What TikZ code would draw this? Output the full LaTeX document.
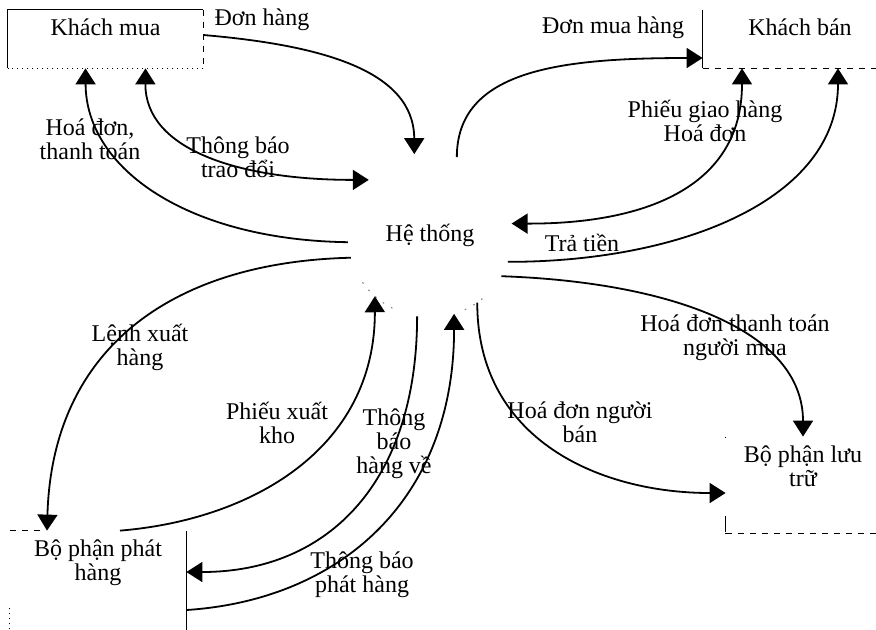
\documentclass[tikz,border=0pt]{standalone}
\usepackage{fontspec}
\setmainfont{Liberation Serif}
\usetikzlibrary{arrows.meta}

\begin{document}
\begin{tikzpicture}[x=0.5pt, y=-0.5pt,
    font=\fontsize{12}{12}\selectfont,
    flow/.style={line width=0.9pt, -{Triangle[width=10pt,length=8pt]}},
    both/.style={line width=0.9pt, {Triangle[width=10pt,length=8pt]}-{Triangle[width=10pt,length=8pt]}},
    entity/.style={rectangle, inner sep=0pt},
    side/.style={line width=0.5pt},
    txt/.style={anchor=center, align=center, yshift=-#1},
    lbl/.style={align=center}]
    \useasboundingbox (0,0) rectangle (876,629);

    % the process in the middle
    \node[circle, minimum size=82pt, inner sep=0pt] (he) at (430,235) {Hệ thống};
    \draw[side, black!50, dash pattern=on 0.8pt off 4pt]
        (he.215) arc[start angle=215, end angle=245, radius=41pt];
    \draw[side, black!50, dash pattern=on 0.8pt off 4pt]
        (he.295) arc[start angle=295, end angle=312, radius=41pt];

    % the four outside parties
    \node[entity, minimum width=97.5pt, minimum height=29pt,
        label={[txt=9pt]north:Khách mua}] (kmua) at (105.5,39) {};
    \node[entity, minimum width=87.5pt, minimum height=29pt,
        label={[txt=9pt, xshift=4.75pt]north:Khách bán}] (kban) at (790.5,39) {};
    \node[entity, minimum width=88pt, minimum height=54pt,
        label={[txt=16pt]north:{Bộ phận phát\\hàng}}] (bpph) at (98,585) {};
    \node[entity, minimum width=77pt, minimum height=48pt,
        label={[txt=15pt]north:{Bộ phận lưu\\trữ}}] (bplt) at (803,485) {};

    % box edges, half worn off
    \draw[side] (kmua.south west) -- (kmua.north west) -- (kmua.north east);
    \draw[side, dashed] (kmua.north east) -- (kmua.south east);
    \draw[side, dotted] (kmua.south east) -- (kmua.south west);
    \draw[side] (kban.north west) -- (kban.south west);
    \draw[side, dashed] (kban.south west) -- (kban.south east);
    \draw[side, dashed] (bpph.north west) -- ++(30,0);
    \draw[side] (bpph.north east) -- (bpph.south east);
    \draw[side, dotted] (bpph.south west) -- ++(0,-34);
    \draw[side, dash pattern=on 0.5pt off 39pt on 8pt] (bplt.north west) -- (bplt.south west);
    \draw[side, dashed] (bplt.south west) -- (bplt.south east);

    % flows
    \draw[flow] ([yshift=2pt]kmua.east) .. controls (320,45) and (414,70) .. (he.101);
    \draw[both] ([xshift=20pt]kmua.south) .. controls (145,150) and (240,180) .. (he.138);
    \draw[flow] (he.185) .. controls (190,240) and (86,170) .. ([xshift=-10pt]kmua.south);
    \draw[flow] (he.71) .. controls (457,70) and (560,58) .. ([yshift=-9.5pt]kban.west);
    \draw[both] ([xshift=-24.25pt]kban.south) .. controls (742,190) and (640,224) .. (he.8);
    \draw[flow] (he.341) .. controls (680,262) and (838,200) .. ([xshift=23.75pt]kban.south);
    \draw[flow] (he.330) .. controls (670,282) and (803,330) .. (bplt.north);
    \draw[flow] (he.305) .. controls (477,440) and (600,493) .. ([yshift=-4pt]bplt.west);
    \draw[flow] (he.196) .. controls (170,262) and (52,350) .. ([xshift=-25.5pt]bpph.north);
    \draw[flow] ([xshift=11pt]bpph.north) .. controls (250,520) and (375,450) .. (he.228);
    \draw[flow] (he.261) .. controls (417,480) and (330,572) .. ([yshift=6.5pt]bpph.east);
    \draw[flow] ([yshift=-12.5pt]bpph.east) .. controls (340,600) and (454,500) .. (he.287);

    % flow names
    \node[lbl] (t1) at (262,20) {Đơn hàng};
    \node[lbl] (t2) at (238,157) {Thông báo\\trao đổi};
    \node[lbl] (t3) at (90,139) {Hoá đơn,\\thanh toán};
    \node[lbl] (t4) at (613,28) {Đơn mua hàng};
    \node[lbl] (t5) at (705,121) {Phiếu giao hàng\\Hoá đơn};
    \node[lbl] (t6) at (582,243) {Trả tiền};
    \node[lbl] (t7) at (735,338) {Hoá đơn thanh toán\\người mua};
    \node[lbl] (t8) at (580,422) {Hoá đơn người\\bán};
    \node[lbl] (t9) at (140,347) {Lệnh xuất\\hàng};
    \node[lbl] (t10) at (277,423) {Phiếu xuất\\kho};
    \node[lbl] (t11) at (394,444) {Thông\\báo\\hàng về};
    \node[lbl] (t12) at (362,575) {Thông báo\\phát hàng};
\end{tikzpicture}
\end{document}
